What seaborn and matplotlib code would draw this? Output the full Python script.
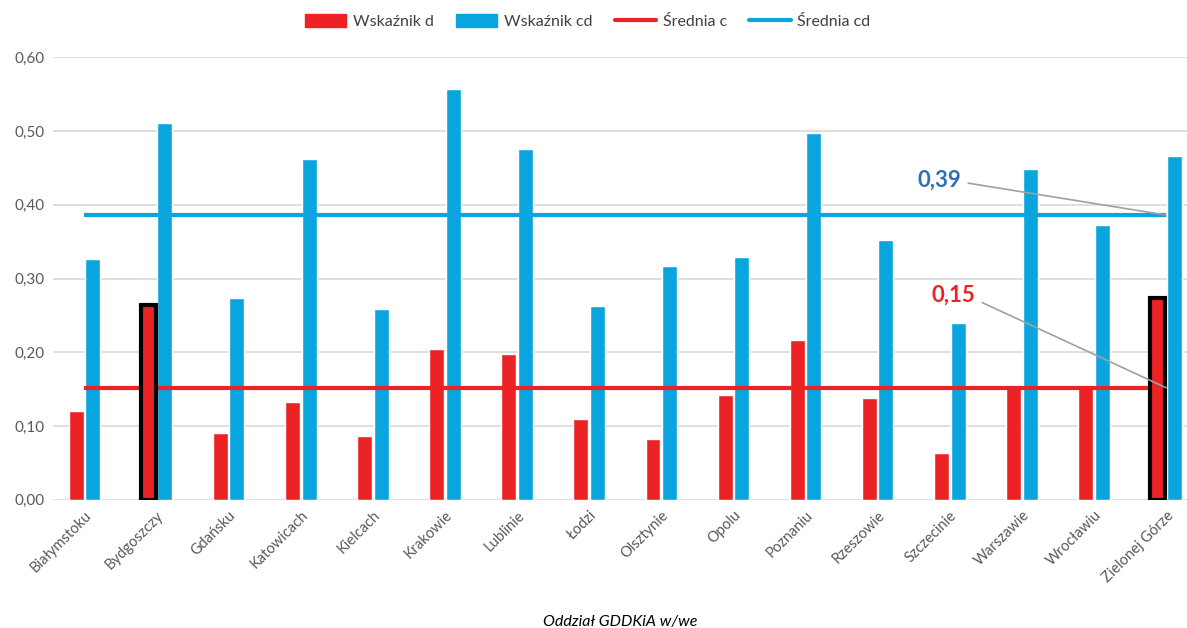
import numpy as np
import pandas as pd
import matplotlib
matplotlib.use("Agg")
import matplotlib.pyplot as plt
import seaborn as sns
from matplotlib.patches import Patch
from matplotlib.lines import Line2D

categories = ["Białymstoku", "Bydgoszczy", "Gdańsku", "Katowicach", "Kielcach",
              "Krakowie", "Lublinie", "Łodzi", "Olsztynie", "Opolu", "Poznaniu",
              "Rzeszowie", "Szczecinie", "Warszawie", "Wrocławiu", "Zielonej Górze"]
wskaznik_d = [0.120, 0.264, 0.090, 0.133, 0.086, 0.204, 0.198, 0.109, 0.083,
              0.142, 0.217, 0.138, 0.063, 0.153, 0.153, 0.274]
wskaznik_cd = [0.326, 0.511, 0.273, 0.462, 0.259, 0.557, 0.476, 0.263, 0.317,
               0.329, 0.497, 0.352, 0.240, 0.449, 0.373, 0.466]
srednia_c = 0.152
srednia_cd = 0.386
highlighted = ["Bydgoszczy", "Zielonej Górze"]
series_names = ["Wskaźnik d", "Wskaźnik cd", "Średnia c", "Średnia cd"]
label_c = "0,15"
label_cd = "0,39"
x_title = "Oddział GDDKiA w/we"
yticks = [0.0, 0.1, 0.2, 0.3, 0.4, 0.5, 0.6]

RED = "#EC2224"
BLUE = "#0AA5DE"
GRID = "#D9D9D9"
TXT = "#595959"

sns.set_theme(style="white")
plt.rcParams["font.family"] = ["Lato", "DejaVu Sans"]

df = pd.DataFrame({
    "cat": categories * 2,
    "val": wskaznik_d + wskaznik_cd,
    "series": [series_names[0]] * len(categories) + [series_names[1]] * len(categories),
})

fig = plt.figure(figsize=(11.87, 6.28), dpi=100)
ax = fig.add_axes([0.045, 0.204, 0.955, 0.705])

sns.barplot(data=df, x="cat", y="val", hue="series", order=categories,
            hue_order=series_names[:2], palette=[RED, BLUE], width=0.46, gap=0.1,
            saturation=1, legend=False, ax=ax, zorder=2)

for i, p in enumerate(ax.containers[0]):
    if categories[i] in highlighted:
        p.set_edgecolor("black")
        p.set_linewidth(3)
        p.set_zorder(4)

xs = np.arange(len(categories))
ax.plot(xs, [srednia_c] * len(xs), color=RED, lw=3, zorder=3, solid_capstyle="butt")
ax.plot(xs, [srednia_cd] * len(xs), color=BLUE, lw=3, zorder=3, solid_capstyle="butt")

ax.set_ylim(0, 0.6)
ax.set_xlim(-0.43, len(categories) - 1 + 0.29)
ax.set_yticks(yticks)
ax.set_yticklabels([f"{v:.2f}".replace(".", ",") for v in yticks], color=TXT, fontsize=11)
ax.yaxis.grid(True, color=GRID, lw=1.2, zorder=0)
ax.set_axisbelow(True)
for s in ax.spines.values():
    s.set_visible(False)
ax.tick_params(axis="both", length=0, pad=6)
ax.set_xticks(xs)
ax.set_xticklabels(categories, rotation=45, ha="right", rotation_mode="anchor",
                   color=TXT, fontsize=10.5)
ax.set_ylabel("")
ax.set_xlabel(x_title, fontstyle="italic", fontsize=11.5, color="black", labelpad=22)

n = len(categories) - 1
ax.annotate(label_cd, xy=(n, srednia_cd), xytext=(11.85, 0.433), color="#2F6DB5",
            fontsize=16, fontweight="bold", ha="center", va="center", zorder=6,
            arrowprops=dict(arrowstyle="-", color="#A0A0A0", lw=1.2, shrinkA=3, shrinkB=0,
                            connectionstyle="arc,angleA=0,armA=12,angleB=0,armB=0,rad=0"))
ax.annotate(label_c, xy=(n, srednia_c), xytext=(12.05, 0.278), color=RED,
            fontsize=16, fontweight="bold", ha="center", va="center", zorder=6,
            arrowprops=dict(arrowstyle="-", color="#A0A0A0", lw=1.2, shrinkA=3, shrinkB=0,
                            connectionstyle="arc,angleA=0,armA=12,angleB=0,armB=0,rad=0"))

handles = [Patch(color=RED), Patch(color=BLUE),
           Line2D([], [], color=RED, lw=3), Line2D([], [], color=BLUE, lw=3)]
fig.legend(handles, series_names, loc="upper center", bbox_to_anchor=(0.495, 1.0),
           ncol=4, frameon=False, fontsize=11.5, handlelength=2.6, handleheight=0.8,
           columnspacing=1.4, handletextpad=0.4, labelcolor="#404040")

fig.savefig("out.png", dpi=100)
